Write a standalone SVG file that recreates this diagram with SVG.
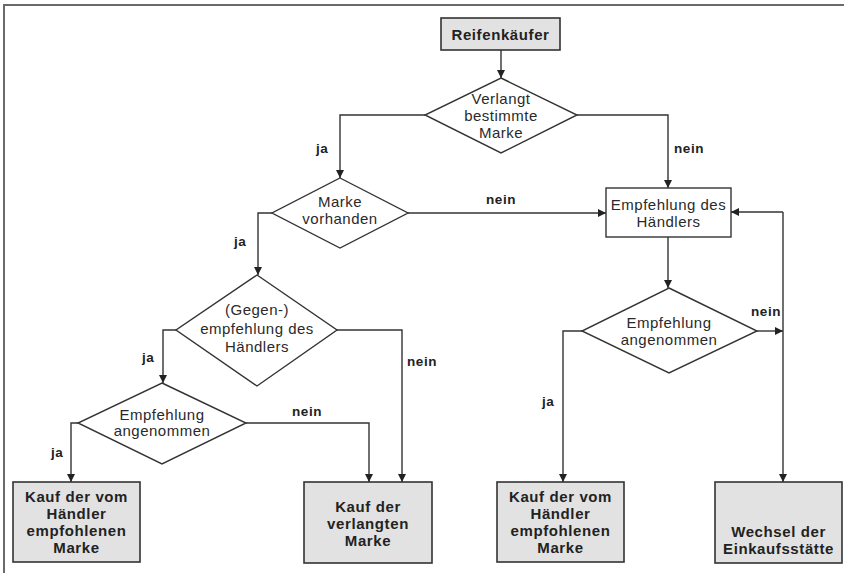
<svg xmlns="http://www.w3.org/2000/svg" width="844" height="573" viewBox="0 0 844 573">
<style>
.frame{fill:none;stroke:#6a6a6a;stroke-width:2}
.box{fill:#e2e2e2;stroke:#333;stroke-width:1.6}
.wbox{fill:#fff;stroke:#333;stroke-width:1.4}
.dia{fill:#fff;stroke:#333;stroke-width:1.4}
.c{fill:none;stroke:#333;stroke-width:1.4;marker-end:url(#ah)}
.t{font-family:"Liberation Sans",Arial,sans-serif;font-size:15px;fill:#2a2a2a;text-anchor:middle;letter-spacing:0.5px}
.b{font-family:"Liberation Sans",Arial,sans-serif;font-size:15px;font-weight:bold;fill:#222;text-anchor:middle;letter-spacing:0.6px}
.l{font-family:"Liberation Sans",Arial,sans-serif;font-size:13.5px;font-weight:bold;fill:#222;letter-spacing:0.6px}
</style>
<defs>
<marker id="ah" markerUnits="userSpaceOnUse" markerWidth="9" markerHeight="8" refX="8" refY="4" orient="auto">
<path d="M0,0 L8,4 L0,8 z" fill="#222"/>
</marker>
</defs>
<rect x="0" y="0" width="844" height="573" fill="#fff"/>
<path class="frame" d="M844,5 H4 V573"/>

<g id="connectors">
<path class="c" d="M501,50 V78"/>
<path class="c" d="M425,115 H340 V178"/>
<path class="c" d="M577,115 H668 V188"/>
<path class="c" d="M408,213 H606"/>
<path class="c" d="M272,213 H258 V275"/>
<path class="c" d="M668,237 V288"/>
<path class="c" d="M757,331 H783"/>
<path class="c" d="M783,212 V482"/>
<path class="c" d="M783,212 H731"/>
<path class="c" d="M582,331 H563 V482"/>
<path class="c" d="M176,330 H163 V383"/>
<path class="c" d="M337,330 H402 V482"/>
<path class="c" d="M78,423 H71 V482"/>
<path class="c" d="M246,423 H369 V482"/>
<text class="l" x="316" y="153">ja</text>
<text class="l" x="674" y="153">nein</text>
<text class="l" x="486" y="204">nein</text>
<text class="l" x="234" y="246">ja</text>
<text class="l" x="751" y="316">nein</text>
<text class="l" x="407" y="366">nein</text>
<text class="l" x="142" y="362">ja</text>
<text class="l" x="542" y="406">ja</text>
<text class="l" x="292" y="416">nein</text>
<text class="l" x="51" y="457">ja</text>
</g>

<g id="reifenkaeufer">
<rect class="box" x="441" y="18" width="119" height="32"/>
<text class="b" x="500.5" y="40">Reifenkäufer</text>
</g>

<g id="verlangt">
<polygon class="dia" points="501,78 577,115 501,153 425,115"/>
<text class="t" x="501" y="104">Verlangt</text>
<text class="t" x="501" y="121">bestimmte</text>
<text class="t" x="501" y="138">Marke</text>
</g>

<g id="vorhanden">
<polygon class="dia" points="340,178 408,213 340,248 272,213"/>
<text class="t" x="340" y="207">Marke</text>
<text class="t" x="340" y="224">vorhanden</text>
</g>

<g id="empfehlung">
<rect class="wbox" x="606" y="188" width="125" height="49"/>
<text class="t" x="668.5" y="210">Empfehlung des</text>
<text class="t" x="668.5" y="227">Händlers</text>
</g>

<g id="gegenempfehlung">
<polygon class="dia" points="257,275 337,330 257,386 176,330"/>
<text class="t" x="257" y="315">(Gegen-)</text>
<text class="t" x="257" y="334">empfehlung des</text>
<text class="t" x="257" y="352">Händlers</text>
</g>

<g id="angenommen-left">
<polygon class="dia" points="162,383 246,423 162,464 78,423"/>
<text class="t" x="162" y="420">Empfehlung</text>
<text class="t" x="162" y="436">angenommen</text>
</g>

<g id="angenommen-right">
<polygon class="dia" points="669,288 757,331 669,373 582,331"/>
<text class="t" x="669" y="328">Empfehlung</text>
<text class="t" x="669" y="345">angenommen</text>
</g>

<g id="kauf-empfohlen-left">
<rect class="box" x="13" y="482" width="127" height="80"/>
<text class="b" x="76.5" y="502">Kauf der vom</text>
<text class="b" x="76.5" y="519">Händler</text>
<text class="b" x="76.5" y="536">empfohlenen</text>
<text class="b" x="76.5" y="553">Marke</text>
</g>

<g id="kauf-verlangt">
<rect class="box" x="304" y="482" width="128" height="81"/>
<text class="b" x="368" y="512">Kauf der</text>
<text class="b" x="368" y="529">verlangten</text>
<text class="b" x="368" y="546">Marke</text>
</g>

<g id="kauf-empfohlen-right">
<rect class="box" x="497" y="482" width="127" height="80"/>
<text class="b" x="560.5" y="502">Kauf der vom</text>
<text class="b" x="560.5" y="519">Händler</text>
<text class="b" x="560.5" y="536">empfohlenen</text>
<text class="b" x="560.5" y="553">Marke</text>
</g>

<g id="wechsel">
<rect class="box" x="715" y="482" width="127" height="81"/>
<text class="b" x="778.5" y="537">Wechsel der</text>
<text class="b" x="778.5" y="554">Einkaufsstätte</text>
</g>
</svg>
